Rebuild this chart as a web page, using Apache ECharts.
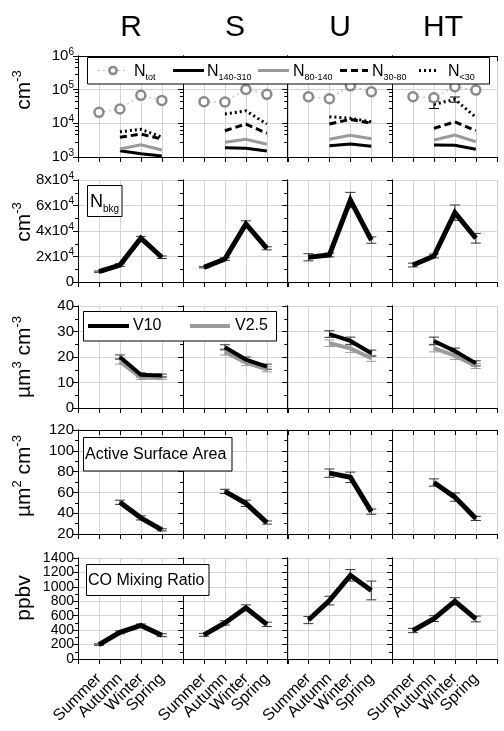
<!DOCTYPE html>
<html><head><meta charset="utf-8">
<script src="https://cdn.jsdelivr.net/npm/echarts@6/dist/echarts.min.js"></script>
<style>html,body{margin:0;padding:0;background:#fff}#c{width:504px;height:731px}</style>
</head><body><div id="c"></div>
<script>
// ---------- data ----------
const seasons = ['Summer', 'Autumn', 'Winter', 'Spring'];
const sites = ['R', 'S', 'U', 'HT'];
// Row 1: number concentrations (cm^-3), log scale, per site
const nTot    = [[21200, 26600, 67800, 48000], [43700, 43000, 102000, 72600], [61500, 53800, 130000, 86800], [61500, 57500, 122000, 97000]];
const n140310 = [[null, 1540, 1250, 1070], [null, 1890, 1810, 1510], [null, 2160, 2430, 2080], [null, 2270, 2230, 1690]];
const n80140  = [[null, 1730, 2320, 1610], [null, 2730, 3350, 2380], [null, 3350, 4400, 3490], [null, 3190, 4500, 2840]];
const n3080   = [[null, 3840, 4810, 3420], [null, 6030, 9530, 5050], [null, 9530, 13100, 10000], [null, 7100, 11100, 6030]];
const nLt30   = [[null, 5640, 6630, 3900], [null, 18900, 23600, 9500], [null, 15700, 14100, 11100], [null, 36600, 51500, 15100]];
const nLt30Err = [[null, null, null, null], [null, null, null, null], [null, null, null, null], [null, 9000, 9000, null]];
// Row 2: N_bkg
const nBkg    = [[8100, 13300, 34300, 19400], [11500, 18000, 45500, 26400], [19400, 21200, 64300, 32900], [13300, 20400, 54400, 34300]];
const nBkgErr = [[500, 1000, 1500, 1000], [500, 1000, 2500, 1200], [2800, 1500, 6000, 2500], [1500, 1500, 6000, 3800]];
// Row 3: volume
const v10    = [[null, 20, 13, 12.7], [null, 23.8, 19, 16.2], [null, 29, 26.3, 21.5], [null, 26.3, 22.3, 17.5]];
const v10Err = [[null, 0.8, 0.8, 0.6], [null, 1, 1, 1], [null, 1.3, 1.5, 1.2], [null, 1.5, 1.2, 1]];
const v25    = [[null, 18.2, 12, 11.8], [null, 22, 17.8, 15.2], [null, 25.4, 23.4, 19.5], [null, 23.5, 20.5, 16.5]];
const v25Err = [[null, 1, 0.8, 0.6], [null, 1.2, 1.2, 1], [null, 1.3, 1.6, 1.2], [null, 1.5, 1.5, 1]];
// Row 4: active surface area
const asa    = [[null, 50.5, 35.5, 24], [null, 61, 49.5, 31], [null, 78.5, 74.5, 41.5], [null, 69.5, 55.5, 35]];
const asaErr = [[null, 2, 2, 1], [null, 2, 3, 1.5], [null, 4, 5, 2.5], [null, 3.5, 4, 2]];
// Row 5: CO mixing ratio
const co    = [[200, 370, 465, 330], [335, 500, 710, 480], [540, 810, 1160, 950], [395, 560, 800, 555]];
const coErr = [[10, 20, 20, 20], [20, 30, 40, 30], [50, 60, 80, 130], [30, 40, 50, 40]];

// ---------- layout ----------
const FONT = 'Liberation Sans, Arial, sans-serif';
const colLeft = [78, 183, 287.5, 392];
const colW = 104.8;
const rowTop = [56, 180, 306, 430, 558];
const rowH = [101, 102, 102, 104, 101];
const GRAY = '#9a9a9a';

const rowAxes = [
  {type: 'log', min: 1000, max: 1e6, minorSplit: 5, rich: true, fs: 15, lh: 18, fmt: v => '10{s|' + Math.round(Math.log10(v)) + '}'},
  {type: 'value', min: 0, max: 80000, interval: 20000, minorSplit: 2, rich: true, fs: 15, lh: 18, fmt: v => v === 0 ? '0' : (v / 10000) + 'x10{s|4}'},
  {type: 'value', min: 0, max: 40, interval: 10, minorSplit: 2, fs: 15, lh: 12, fmt: v => String(v)},
  {type: 'value', min: 20, max: 120, interval: 20, minorSplit: 2, fs: 15, lh: 12, fmt: v => String(v)},
  {type: 'value', min: 0, max: 1400, interval: 200, minorSplit: 2, fs: 14, lh: 9, fmt: v => String(v)}
];

const grids = [], xAxes = [], yAxes = [], series = [];
const pts = arr => arr.map((v, i) => [i + 1, v]);

function errSeries(g, vals, errs, color) {
  const data = [];
  vals.forEach((v, i) => { if (v != null && errs[i] != null) data.push([i + 1, v - errs[i], v + errs[i]]); });
  return {
    type: 'custom', xAxisIndex: 2 * g, yAxisIndex: 2 * g, data, z: 1, silent: true,
    encode: {x: 0, y: [1, 2]},
    renderItem(params, api) {
      const x = api.value(0);
      const lo = api.coord([x, api.value(1)]);
      const hi = api.coord([x, api.value(2)]);
      const w = 5;
      const st = {stroke: color, lineWidth: 1};
      return {type: 'group', children: [
        {type: 'line', shape: {x1: lo[0], y1: lo[1], x2: hi[0], y2: hi[1]}, style: st},
        {type: 'line', shape: {x1: lo[0] - w, y1: lo[1], x2: lo[0] + w, y2: lo[1]}, style: st},
        {type: 'line', shape: {x1: hi[0] - w, y1: hi[1], x2: hi[0] + w, y2: hi[1]}, style: st}
      ]};
    }
  };
}
function lineSeries(g, vals, color, width, type, z) {
  return {type: 'line', xAxisIndex: 2 * g, yAxisIndex: 2 * g, data: pts(vals), symbol: 'none', silent: true,
    lineStyle: {color, width, type: type || 'solid', cap: 'butt', join: 'miter'}, z: z || 3, animation: false};
}

for (let r = 0; r < 5; r++) {
  for (let c = 0; c < 4; c++) {
    const g = r * 4 + c;
    grids.push({left: colLeft[c], top: rowTop[r], width: colW, height: rowH[r], containLabel: false, outerBoundsMode: 'none'});
    const ax = rowAxes[r];
    const isBottom = r === 4;
    xAxes.push({
      type: 'value', gridIndex: g, min: 0, max: 5, interval: 1, position: 'bottom',
      axisLine: {show: true, lineStyle: {color: '#000', width: 1}},
      axisTick: {show: true, inside: false, length: 5, lineStyle: {color: '#000'}},
      splitLine: {show: true, lineStyle: {color: '#d4d4d4', width: 1}},
      axisLabel: {show: isBottom, rotate: 45, margin: 17, fontFamily: FONT, fontSize: 16, color: '#000', hideOverlap: false,
        formatter: v => seasons[v - 1] || ''}
    });
    xAxes.push({
      type: 'value', gridIndex: g, min: 0, max: 5, interval: 1, position: 'top',
      axisLine: {show: true, lineStyle: {color: '#000', width: 1}},
      axisTick: {show: true, inside: true, length: 5, lineStyle: {color: '#000'}},
      splitLine: {show: false}, axisLabel: {show: false}
    });
    const yBase = {
      type: ax.type, gridIndex: g, min: ax.min, max: ax.max,
      axisLine: {show: true, lineStyle: {color: '#000', width: 1}}
    };
    if (ax.interval) yBase.interval = ax.interval;
    if (ax.type === 'log') yBase.logBase = 10;
    const lab = {show: c === 0, fontFamily: FONT, fontSize: ax.fs, color: '#000', margin: 4, showMinLabel: true, showMaxLabel: true,
        hideOverlap: false, formatter: ax.fmt, lineHeight: ax.lh};
    if (ax.rich) lab.rich = {s: {fontFamily: FONT, fontSize: 10, lineHeight: 10, verticalAlign: 'top', color: '#000', padding: [0, 0, 6, 0]}};
    yAxes.push(Object.assign({}, yBase, {
      position: 'left',
      axisTick: {show: true, inside: false, length: 5, lineStyle: {color: '#000'}},
      minorTick: {show: true, splitNumber: ax.minorSplit, length: 3, lineStyle: {color: '#000'}},
      splitLine: {show: true, lineStyle: {color: '#d4d4d4', width: 1}},
      axisLabel: lab
    }));
    yAxes.push(Object.assign({}, yBase, {
      position: 'right',
      axisTick: {show: true, inside: true, length: 5, lineStyle: {color: '#000'}},
      minorTick: {show: true, splitNumber: ax.minorSplit, length: 3, lineStyle: {color: '#000'}},
      splitLine: {show: false}, axisLabel: {show: false}
    }));

    if (r === 0) {
      series.push({type: 'line', xAxisIndex: 2 * g, yAxisIndex: 2 * g, data: pts(nTot[c]), silent: true,
        symbol: 'circle', symbolSize: 9, showSymbol: true, animation: false, z: 4,
        itemStyle: {color: '#fff', borderColor: '#8a8a8a', borderWidth: 2.5},
        lineStyle: {color: '#bdbdbd', width: 1.2, type: [2, 3]}});
      series.push(lineSeries(g, n140310[c], '#000', 3));
      series.push(lineSeries(g, n80140[c], GRAY, 3));
      series.push(lineSeries(g, n3080[c], '#000', 3, [7, 4]));
      series.push(lineSeries(g, nLt30[c], '#000', 3, [2, 3]));
      series.push(errSeries(g, nLt30[c], nLt30Err[c], '#000'));
    } else if (r === 1) {
      series.push(errSeries(g, nBkg[c], nBkgErr[c], '#333'));
      series.push(lineSeries(g, nBkg[c], '#000', 5));
    } else if (r === 2) {
      series.push(errSeries(g, v25[c], v25Err[c], GRAY));
      series.push(lineSeries(g, v25[c], GRAY, 4));
      series.push(errSeries(g, v10[c], v10Err[c], '#333'));
      series.push(lineSeries(g, v10[c], '#000', 4));
    } else if (r === 3) {
      series.push(errSeries(g, asa[c], asaErr[c], '#333'));
      series.push(lineSeries(g, asa[c], '#000', 5));
    } else {
      series.push(errSeries(g, co[c], coErr[c], '#333'));
      series.push(lineSeries(g, co[c], '#000', 5));
    }
  }
}

// ---------- decorations (titles, legends) ----------
const graphics = [];
const siteX = [131, 235, 340, 443];
sites.forEach((s, i) => graphics.push({type: 'text', x: siteX[i], y: 28, z: 100,
  style: {text: s, fontFamily: FONT, fontSize: 30, fill: '#000', align: 'center', verticalAlign: 'middle'}}));

const yTitles = ['cm{s|-3}', 'cm{s|-3}', 'µm{s|3} cm{s|-3}', 'µm{s|2} cm{s|-3}', 'ppbv'];
const yTitleY = [90, 222, 357, 476, 598];
yTitles.forEach((t, i) => graphics.push({type: 'text', x: 24, y: yTitleY[i], rotation: Math.PI / 2, z: 100,
  style: {text: t, fontFamily: FONT, fontSize: 21, fill: '#000', align: 'center', verticalAlign: 'middle', lineHeight: 26,
    rich: {s: {fontFamily: FONT, fontSize: 13, lineHeight: 13, verticalAlign: 'top', fill: '#000'}}}}));

function box(x, y, w, h) {
  graphics.push({type: 'rect', shape: {x, y, width: w, height: h}, z: 100,
    style: {fill: '#fff', stroke: '#000', lineWidth: 1}});
}
function gline(x1, x2, y, color, width, dash) {
  graphics.push({type: 'line', shape: {x1, y1: y, x2, y2: y}, z: 101,
    style: {stroke: color, lineWidth: width, lineDash: dash || null}});
}
function gtext(x, y, text, size, subSize) {
  graphics.push({type: 'text', x, y, z: 101,
    style: {text, fontFamily: FONT, fontSize: size, fill: '#000', align: 'left', verticalAlign: 'middle', lineHeight: size + 6,
      rich: {b: {fontFamily: FONT, fontSize: subSize || 9, lineHeight: subSize || 9, verticalAlign: 'bottom', fill: '#000'}}}});
}
// row 1 legend
box(87.5, 57.5, 402, 26.5);
const ly = 70.5;
gline(98, 126, ly, '#bdbdbd', 1.2, [2, 3]);
graphics.push({type: 'circle', shape: {cx: 113, cy: ly, r: 3.6}, z: 102, style: {fill: '#fff', stroke: '#8a8a8a', lineWidth: 2.5}});
gtext(134, ly + 1, 'N{b|tot}', 16);
gline(173, 204, ly, '#000', 3);
gtext(207, ly + 1, 'N{b|140-310}', 16);
gline(258, 289, ly, GRAY, 3);
gtext(293, ly + 1, 'N{b|80-140}', 16);
gline(340, 368, ly, '#000', 3, [7, 4]);
gtext(372, ly + 1, 'N{b|30-80}', 16);
gline(419, 439, ly, '#000', 3, [2, 3]);
gtext(448, ly + 1, 'N{b|<30}', 16);
// row 2 legend
box(87.5, 185.5, 34.5, 31);
gtext(90, 202, 'N{b|bkg}', 18, 10);
// row 3 legend
box(83.5, 311.5, 193, 29.5);
gline(88, 129, 326, '#000', 4);
gtext(133, 326, 'V10', 16);
gline(190, 230, 326, GRAY, 4);
gtext(235, 326, 'V2.5', 16);
// row 4 legend
box(83.5, 437.5, 148.5, 33.5);
gtext(85, 454.5, 'Active Surface Area', 16);
// row 5 legend
box(86.5, 564.5, 122.5, 31);
gtext(88, 580.5, 'CO Mixing Ratio', 16);

const chart = echarts.init(document.getElementById('c'), null, {renderer: 'canvas'});
chart.setOption({
  animation: false,
  backgroundColor: '#fff',
  grid: grids, xAxis: xAxes, yAxis: yAxes, series, graphic: graphics
});
</script></body></html>
